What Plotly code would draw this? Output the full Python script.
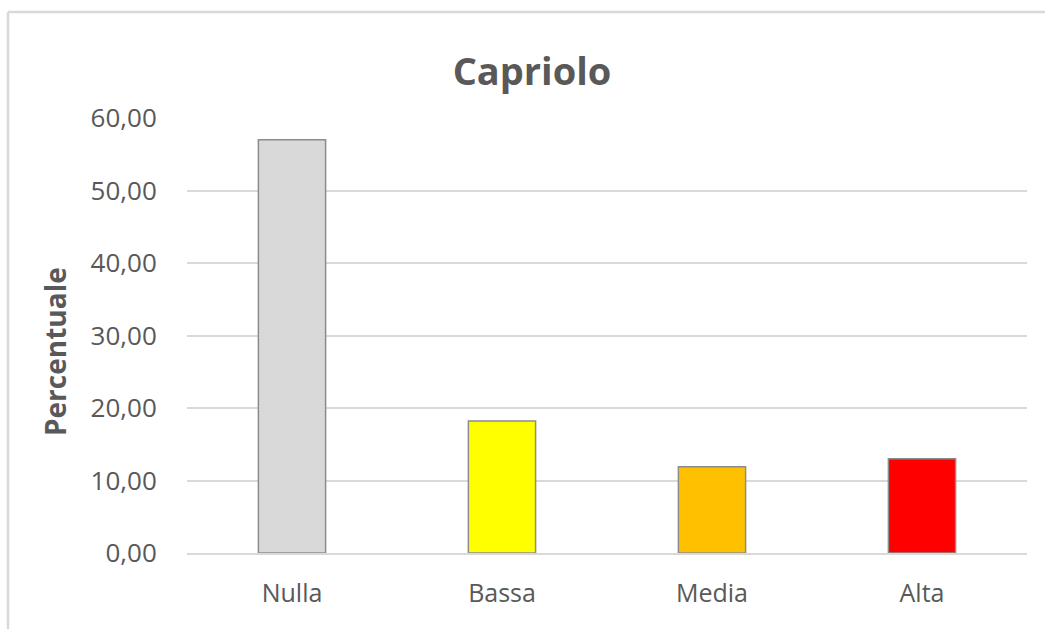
import plotly.graph_objects as go

categories = ["Nulla", "Bassa", "Media", "Alta"]
values = [57.0, 18.2, 11.9, 13.0]
bar_colors = ["#d9d9d9", "#ffff00", "#ffc000", "#ff0000"]
y_ticks = [0, 10, 20, 30, 40, 50, 60]

W, H = 1045, 629
L, R, T, B = 187, 18, 118, 76
pw, ph = W - L - R, H - T - B

fig = go.Figure(go.Bar(
    x=categories, y=values,
    marker=dict(color=bar_colors, line=dict(color="#8c8c8c", width=1.5)),
    width=0.32,
))

txt = "#595959"
font = "Open Sans, Noto Sans, sans-serif"

fig.update_layout(
    width=W, height=H,
    margin=dict(l=L, r=R, t=T, b=B),
    paper_bgcolor="white", plot_bgcolor="white",
    separators=",.",
    showlegend=False,
    title=dict(text="<b>Capriolo</b>", x=532 / W, xref="container", xanchor="center",
               y=1 - 72 / H, yref="container", yanchor="middle",
               font=dict(family=font, size=38, color=txt)),
    font=dict(family=font, color=txt),
)
fig.update_xaxes(
    showgrid=False, showline=True, linecolor="#d9d9d9", linewidth=1.5,
    tickfont=dict(family=font, size=25, color=txt),
    ticks="outside", ticklen=0, ticklabelstandoff=17,
)
fig.update_yaxes(
    range=[0, 60], tickvals=y_ticks, tickformat=".2f",
    showgrid=True, gridcolor="#d9d9d9", gridwidth=1.5,
    zeroline=False, showline=False,
    tickfont=dict(family=font, size=26, color=txt),
    ticks="outside", ticklen=0, ticklabelstandoff=24,
)
fig.add_annotation(
    text="<b>Percentuale</b>", textangle=-90,
    xref="paper", yref="paper",
    x=(55 - L) / pw, y=(553 - 352) / ph, xanchor="center", yanchor="middle",
    showarrow=False, font=dict(family=font, size=28, color=txt),
)
# chart-area border (left and top edges visible)
bx = (8 - L) / pw
by = 1 + (T - 12) / ph
fig.add_shape(type="line", xref="paper", yref="paper", x0=bx, x1=bx, y0=-0.5, y1=by,
              line=dict(color="#d9d9d9", width=2.5))
fig.add_shape(type="line", xref="paper", yref="paper", x0=bx, x1=1.5, y0=by, y1=by,
              line=dict(color="#d9d9d9", width=2.5))

fig.write_html("out.html", config={"displayModeBar": False},
               post_script="document.body.style.margin='0';document.body.style.overflow='hidden';")
